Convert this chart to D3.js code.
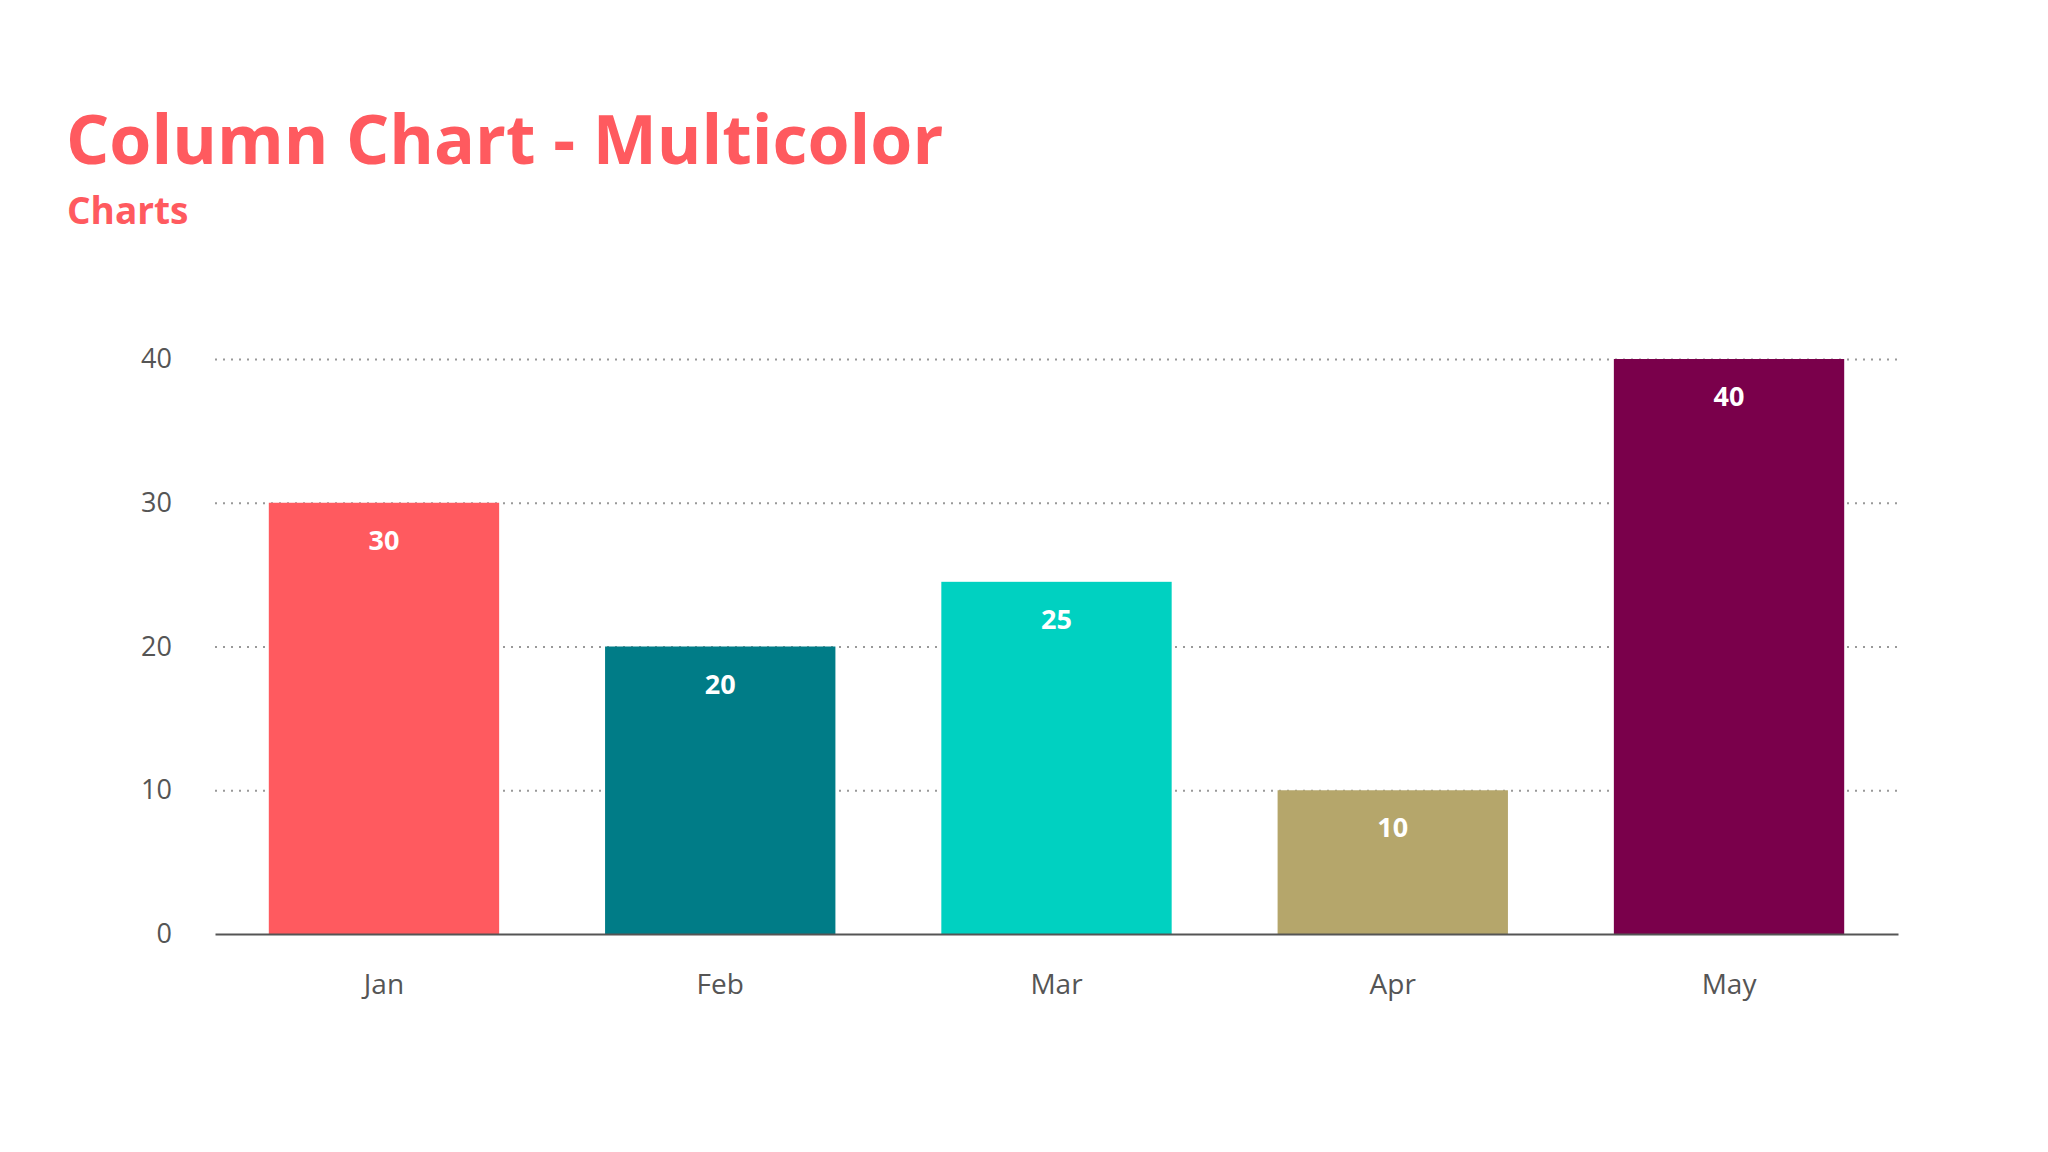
<!DOCTYPE html>
<html>
<head>
<meta charset="utf-8">
<script src="https://cdn.jsdelivr.net/npm/d3@7"></script>
<style>
  body { margin: 0; background: #fff; }
  text { font-family: "Open Sans", sans-serif; }
</style>
</head>
<body>
<svg id="chart" width="2048" height="1152"></svg>
<script>
const months = ['Jan', 'Feb', 'Mar', 'Apr', 'May']
const values = [30, 20, 24.5, 10, 40]
const colors = ['#ff5a5f', '#007c87', '#00d1c1', '#b5a66b', '#7a004b']
const yTicks = [0, 10, 20, 30, 40]

const svg = d3.select('#chart')
const plotLeft = 215, plotRight = 1898, plotTop = 359, plotBottom = 934

const x = d3.scaleBand().domain(months).range([plotLeft, plotRight]).paddingInner(0.315).paddingOuter(0.16)
const y = d3.scaleLinear().domain([0, 40]).range([plotBottom, plotTop])

svg.append('text').text('Column Chart - Multicolor')
    .attr('x', 66).attr('y', 164)
    .attr('font-size', 68).attr('font-weight', 'bold').attr('fill', '#ff5a5f')

svg.append('text').text('Charts')
    .attr('x', 67).attr('y', 224)
    .attr('font-size', 37).attr('font-weight', 'bold').attr('fill', '#ff5a5f')

// gridlines
const grid = svg.append('g').attr('transform', 'translate(' + plotLeft + ',0)')
    .call(d3.axisLeft(y).tickValues(yTicks.slice(1)).tickSize(-(plotRight - plotLeft)).tickFormat(''))
grid.select('.domain').remove()
grid.selectAll('.tick line').attr('stroke', '#999').attr('stroke-width', 2).attr('stroke-dasharray', '2,6')

// y labels
const yAxis = svg.append('g').attr('transform', 'translate(' + plotLeft + ',0)')
    .call(d3.axisLeft(y).tickValues(yTicks).tickSize(0).tickPadding(43))
yAxis.select('.domain').remove()
yAxis.selectAll('.tick text').attr('font-size', 27).attr('fill', '#555').style('font-family', '"Open Sans", sans-serif')

// bars
svg.selectAll('.bar').data(months).enter().append('rect')
    .attr('x', d => x(d))
    .attr('y', (d, i) => y(values[i]))
    .attr('width', x.bandwidth())
    .attr('height', (d, i) => plotBottom - y(values[i]))
    .attr('fill', (d, i) => colors[i])

svg.selectAll('.val').data(months).enter().append('text')
    .text((d, i) => Math.round(values[i]))
    .attr('x', d => x(d) + x.bandwidth() / 2)
    .attr('y', (d, i) => y(values[i]) + 47)
    .attr('text-anchor', 'middle').attr('font-size', 27).attr('font-weight', 'bold').attr('fill', '#fff')

// x axis
const xAxis = svg.append('g').attr('transform', 'translate(0,' + plotBottom + ')')
    .call(d3.axisBottom(x).tickSize(0).tickPadding(40))
xAxis.select('.domain').attr('stroke', '#555').attr('stroke-width', 2)
xAxis.selectAll('.tick text').attr('font-size', 28).attr('fill', '#555').style('font-family', '"Open Sans", sans-serif')
</script>
</body>
</html>
